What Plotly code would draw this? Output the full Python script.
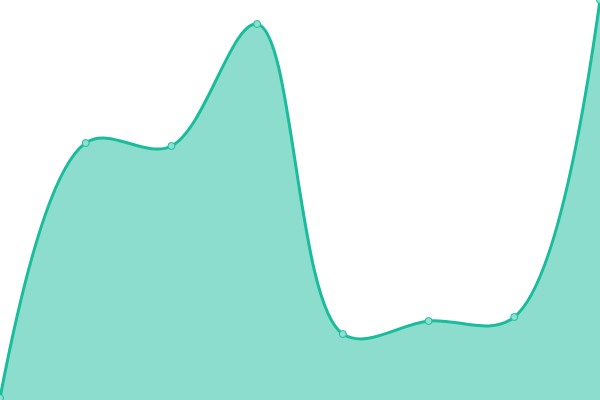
import plotly.graph_objects as go

x_vals = [0, 1, 2, 3, 4, 5, 6, 7]
y_vals = [2, 257, 254, 376, 66, 79, 83, 400]

fig = go.Figure()
fig.add_trace(go.Scatter(
    x=x_vals,
    y=y_vals,
    mode='lines+markers',
    line=dict(color='#1abc9c', width=3, shape='spline', smoothing=1.0),
    marker=dict(size=7, color='#8be0d0', line=dict(color='#1abc9c', width=1)),
    fill='tozeroy',
    fillcolor='rgba(26,188,156,0.5)',
    hoverinfo='skip'
))
fig.update_layout(
    width=600, height=400,
    margin=dict(l=0, r=0, t=0, b=0),
    paper_bgcolor='white', plot_bgcolor='white',
    showlegend=False
)
fig.update_xaxes(visible=False, range=[0, 7])
fig.update_yaxes(visible=False, range=[0, 400])
# page margin off so the chart fills the window
fig.write_html("out.html", config={'displayModeBar': False},
               post_script="document.body.style.margin='0';")
